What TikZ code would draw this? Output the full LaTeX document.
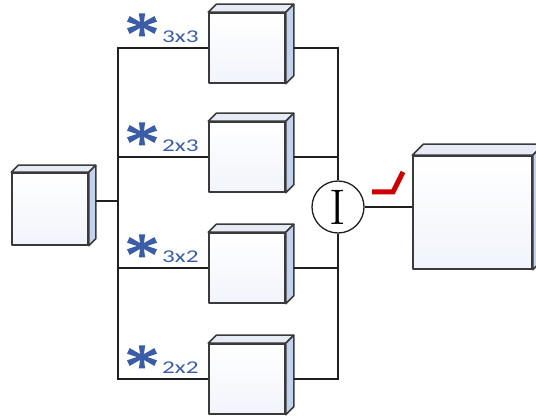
\documentclass[tikz,border=0pt]{standalone}
\usepackage{fontspec}
\newfontfamily\labfont{Carlito}
\usetikzlibrary{calc}
\definecolor{edge}{HTML}{3A3A3A}
\definecolor{wirec}{HTML}{202020}
\definecolor{topc}{HTML}{E6EBF5}
\definecolor{sidec}{HTML}{C3D3EE}
\definecolor{frontb}{HTML}{F1F4FB}
\definecolor{labblue}{HTML}{3A5DA6}
\definecolor{checkred}{HTML}{CC0000}
\tikzset{
  front/.style={draw=edge, line width=1.5pt, inner sep=0pt, top color=white, bottom color=frontb, line join=round},
  topface/.style={draw=edge, line width=1.5pt, fill=topc, line join=round},
  sideface/.style={draw=edge, line width=1.5pt, fill=sidec, line join=round},
  wire/.style={draw=wirec, line width=1.6pt},
  sizelab/.style={anchor=base west, inner sep=0pt, text=labblue, font=\labfont\fontsize{18}{18}\selectfont},
  astx/.pic={
    \foreach \a/\r in {90/11.5,270/11.5,24/15,156/15,204/15,336/15}
      \fill[labblue, rotate=\a] (0,-1.6) -- (\r,-3.1) -- (\r,3.1) -- (0,1.6) -- cycle;
  }
}
\newcommand\cubefaces[2]{%
  \draw[topface] (#1.north west) -- ++(#2,#2) -- ($(#1.north east)+(#2,#2)$) -- (#1.north east) -- cycle;
  \draw[sideface] (#1.north east) -- ($(#1.north east)+(#2,#2)$) -- ($(#1.south east)+(#2,#2)$) -- (#1.south east) -- cycle;
}
\begin{document}
\begin{tikzpicture}[x=1pt,y=1pt]
\useasboundingbox (0,0) rectangle (536,418);
% left box
\node[front, minimum width=76pt, minimum height=72pt] (l) at (50,209) {};
\cubefaces{l}{7}
% branch boxes
\node[front, minimum width=76pt, minimum height=70pt] (b1) at (247,370) {};
\node[front, minimum width=76pt, minimum height=70pt] (b2) at (247,261) {};
\node[front, minimum width=76pt, minimum height=70pt] (b3) at (247,150) {};
\node[front, minimum width=76pt, minimum height=70pt] (b4) at (247,39) {};
\foreach \n in {b1,b2,b3,b4} {\cubefaces{\n}{8}}
% big box
\node[front, minimum width=119pt, minimum height=113pt] (r) at (472.5,205.5) {};
\cubefaces{r}{11}
% circle
\node[circle, draw=wirec, line width=1.3pt, fill=white, minimum size=52pt, inner sep=0pt,
      font=\fontsize{50}{50}\selectfont] (c) at (338,211) {I};
% left bus
\coordinate (lbus) at (118,209);
\draw[wire] (b1.west) -| (lbus) |- (b4.west);
\draw[wire] (b2.west) -- (b2.west -| lbus);
\draw[wire] (b3.west) -- (b3.west -| lbus);
\draw[wire] ($(l.east)+(7,8)$) coordinate (lo) -- (lo -| lbus);
% right bus
\coordinate (e1) at ($(b1.east)+(8,0)$);
\coordinate (e2) at ($(b2.east)+(8,0)$);
\coordinate (e3) at ($(b3.east)+(8,0)$);
\coordinate (e4) at ($(b4.east)+(8,0)$);
\draw[wire] (e1) -| (c.north);
\draw[wire] (e4) -| (c.south);
\draw[wire] (e2) -- (e2 -| c);
\draw[wire] (e3) -- (e3 -| c);
\draw[wire] (c.east) -- (c.east -| r.west);
% labels
\pic at (142,393) {astx};
\node[sizelab] (t1) at (162,375) {\scalebox{1.4}[1]{3x3}};
\pic at (142,284) {astx};
\node[sizelab] (t2) at (162,266) {\scalebox{1.4}[1]{2x3}};
\pic at (142,172) {astx};
\node[sizelab] (t3) at (162,155) {\scalebox{1.4}[1]{3x2}};
\pic at (142,61) {astx};
\node[sizelab] (t4) at (162,44) {\scalebox{1.4}[1]{2x2}};
% red mark
\draw[checkred, line width=5pt] (372,226) -- (393,226) -- (403,246);
\end{tikzpicture}
\end{document}
